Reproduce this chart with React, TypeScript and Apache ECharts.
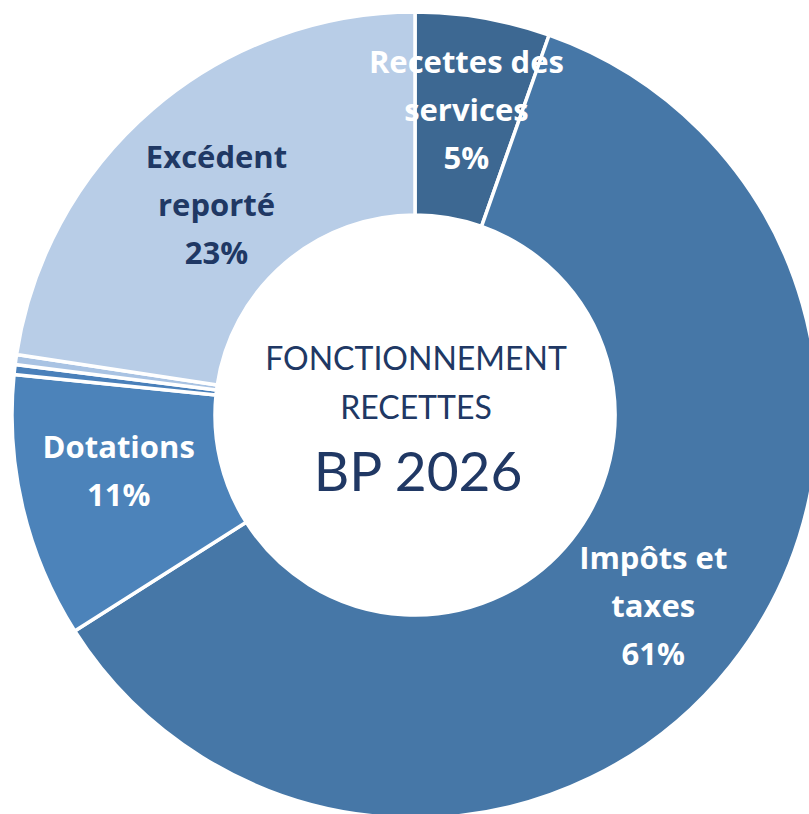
import React, { useEffect, useRef } from "react";
import * as echarts from "echarts";

const categories = [
  "Recettes des services",
  "Impôts et taxes",
  "Dotations",
  "Autres produits",
  "Atténuations de charges",
  "Excédent reporté",
];
const values = [5.4, 60.6, 10.6, 0.4, 0.4, 22.6];
const labelNames = ["Recettes des\nservices", "Impôts et\ntaxes", "Dotations", "", "", "Excédent\nreporté"];
const showLabel = [true, true, true, false, false, true];
const centerLines = ["FONCTIONNEMENT", "RECETTES", "BP 2026"];

const sliceColors = ["#3d6892", "#4677a7", "#4c83ba", "#4a80ba", "#a9c3e3", "#b8cde7"];
const labelColors = ["#ffffff", "#ffffff", "#ffffff", "#ffffff", "#ffffff", "#203864"];
// spacer heights (px) above / below each label, to nudge its position
const topSpacer = [0, 0, 0, 0, 0, 40];
const bottomSpacer = [12, 0, 30, 0, 0, 0];

export default function App() {
  const ref = useRef<HTMLDivElement>(null);
  useEffect(() => {
    document.body.style.margin = "0";
    if (!ref.current) return;
    const chart = echarts.init(ref.current, undefined, { renderer: "svg" });
    const labelFont = "'Open Sans', Lato, sans-serif";
    const centerFont = "Lato, 'Open Sans', sans-serif";
    const rich: Record<string, any> = {};
    [...topSpacer, ...bottomSpacer].forEach((h) => {
      if (h > 0) rich["s" + h] = { fontSize: 1, lineHeight: h, height: h };
    });
    chart.setOption({
      animation: false,
      backgroundColor: "#ffffff",
      series: [
        {
          type: "pie",
          center: [415, 415],
          radius: [200, 403],
          startAngle: 90,
          clockwise: true,
          avoidLabelOverlap: false,
          itemStyle: { borderColor: "#ffffff", borderWidth: 3.5 },
          label: {
            show: true,
            position: "inside",
            fontFamily: labelFont,
            fontWeight: "bold",
            fontSize: 31,
            lineHeight: 48,
            textBorderWidth: 0,
            rich,
            formatter: (p: any) => {
              const i = p.dataIndex;
              let s = labelNames[i] + "\n" + Math.round(p.percent) + "%";
              if (topSpacer[i] > 0) s = "{s" + topSpacer[i] + "| }\n" + s;
              if (bottomSpacer[i] > 0) s = s + "\n{s" + bottomSpacer[i] + "| }";
              return s;
            },
          },
          labelLine: { show: false },
          emphasis: { disabled: true },
          data: categories.map((name, i) => ({
            name,
            value: values[i],
            itemStyle: { color: sliceColors[i] },
            label: {
              show: showLabel[i],
              color: labelColors[i],
            },
          })),
        },
      ],
      graphic: [
        {
          type: "text",
          x: 416,
          y: 357,
          style: {
            text: centerLines[0],
            font: `32px ${centerFont}`,
            fill: "#203864",
            textAlign: "center",
            textVerticalAlign: "middle",
          },
        },
        {
          type: "text",
          x: 416,
          y: 406,
          style: {
            text: centerLines[1],
            font: `32px ${centerFont}`,
            fill: "#203864",
            textAlign: "center",
            textVerticalAlign: "middle",
          },
        },
        {
          type: "text",
          x: 418,
          y: 470,
          style: {
            text: centerLines[2],
            font: `55px ${centerFont}`,
            fill: "#203864",
            textAlign: "center",
            textVerticalAlign: "middle",
          },
        },
      ],
    });
    return () => chart.dispose();
  }, []);
  return <div ref={ref} style={{ width: 809, height: 814 }} />;
}
